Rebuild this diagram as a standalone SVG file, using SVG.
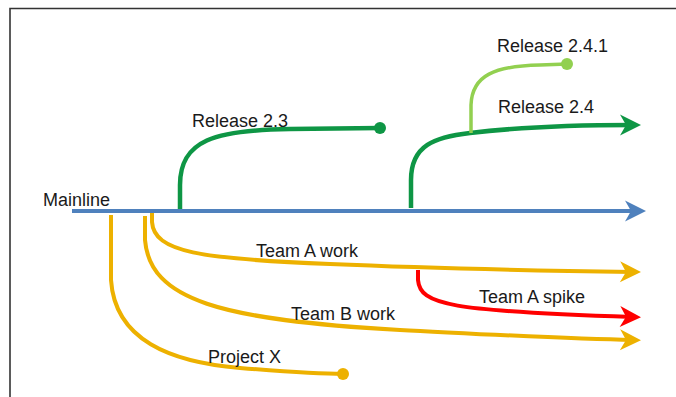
<svg xmlns="http://www.w3.org/2000/svg" width="676" height="397" viewBox="0 0 676 397">
<style>
.lbl{font-family:"Liberation Sans",Arial,sans-serif;font-size:18px;fill:#1a1a1a}
.br{fill:none;stroke-linecap:butt}
.blue{stroke:#4f81bd;stroke-width:4}
.green{stroke:#0e9645;stroke-width:4.5}
.lgreen{stroke:#92d050;stroke-width:3.5}
.yellow{stroke:#edb100;stroke-width:4}
.red{stroke:#ff0000;stroke-width:4}
</style>
<defs>
<marker id="aBlue" viewBox="-30 -15 40 30" refX="-8" refY="0" markerWidth="40" markerHeight="30" markerUnits="userSpaceOnUse" orient="auto"><path d="M0,0 L-21,-10.5 L-15,0 L-21,10.5 Z" fill="#4f81bd"/></marker>
<marker id="aGreen" viewBox="-30 -15 40 30" refX="-8" refY="0" markerWidth="40" markerHeight="30" markerUnits="userSpaceOnUse" orient="auto"><path d="M0,0 L-21,-10.5 L-15,0 L-21,10.5 Z" fill="#0e9645"/></marker>
<marker id="aYellow" viewBox="-30 -15 40 30" refX="-8" refY="0" markerWidth="40" markerHeight="30" markerUnits="userSpaceOnUse" orient="auto"><path d="M0,0 L-21,-10.5 L-15,0 L-21,10.5 Z" fill="#edb100"/></marker>
<marker id="aRed" viewBox="-30 -15 40 30" refX="-8" refY="0" markerWidth="40" markerHeight="30" markerUnits="userSpaceOnUse" orient="auto"><path d="M0,0 L-21,-10.5 L-15,0 L-21,10.5 Z" fill="#ff0000"/></marker>
</defs>
<rect width="676" height="397" fill="#ffffff"/>
<path d="M10,397 L10,8.5 L676,8.5" fill="none" stroke="#333333" stroke-width="1.6"/>
<g id="connectors">
<path id="release23" class="br green" d="M180,210 L180,185 C180,140 215,130 290,129 L380,128"/>
<path id="release24" class="br green" d="M411,208 L411,180 C411,145 435,137 470,133 C520,127 580,125 633,125" marker-end="url(#aGreen)"/>
<path id="release241" class="br lgreen" d="M471,133 L471,105 C472,75 495,66 540,65 L567,64"/>
<path id="teamA" class="br yellow" d="M152,212 L152,222 C154,252 200,259 330,264 C400,267 500,270 633,272" marker-end="url(#aYellow)"/>
<path id="teamB" class="br yellow" d="M145,216 L145,240 C150,300 220,320 400,330 C500,335 570,339 633,340" marker-end="url(#aYellow)"/>
<path id="projectX" class="br yellow" d="M111,215 L111,280 C115,340 170,362 240,368 C290,372 320,374 343,374"/>
<path id="spike" class="br red" d="M418,270 L418,280 C420,305 450,311 633,317" marker-end="url(#aRed)"/>
<path id="mainline" class="br blue" d="M72,211 L638,211" marker-end="url(#aBlue)"/>
<circle cx="380" cy="128" r="6" fill="#0e9645"/>
<circle cx="567" cy="64" r="6" fill="#92d050"/>
<circle cx="343" cy="374" r="6" fill="#edb100"/>
</g>
<g id="n-mainline"><text class="lbl" x="43" y="206">Mainline</text></g>
<g id="n-release23"><text class="lbl" x="192" y="127">Release 2.3</text></g>
<g id="n-release24"><text class="lbl" x="498" y="113">Release 2.4</text></g>
<g id="n-release241"><text class="lbl" x="497" y="52">Release 2.4.1</text></g>
<g id="n-teamA"><text class="lbl" x="256" y="257">Team A work</text></g>
<g id="n-spike"><text class="lbl" x="479" y="303">Team A spike</text></g>
<g id="n-teamB"><text class="lbl" x="291" y="320">Team B work</text></g>
<g id="n-projectX"><text class="lbl" x="208" y="363">Project X</text></g>
</svg>
